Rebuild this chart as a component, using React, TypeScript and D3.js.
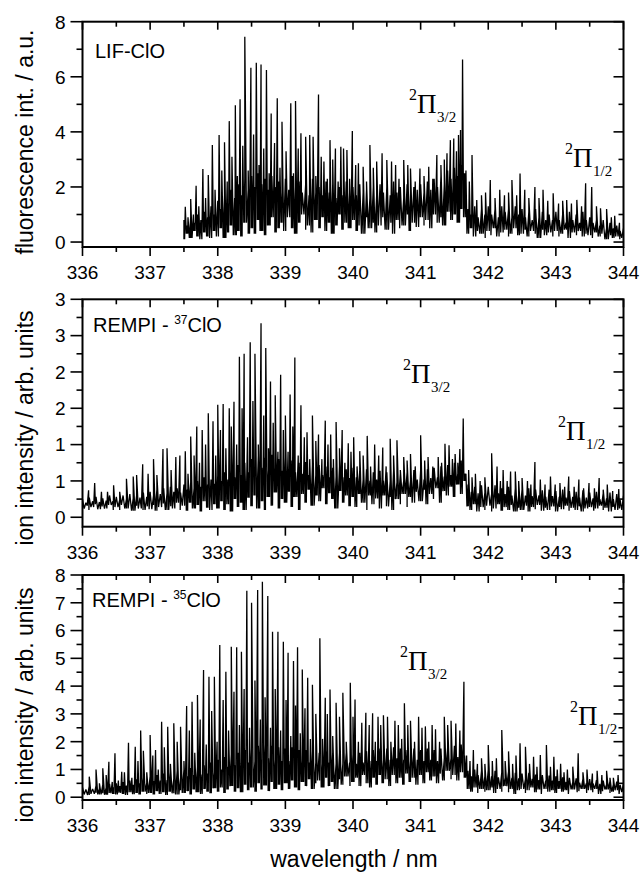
import React from "react";
import * as d3 from "d3";

// ---------- shared x axis ----------
const X_MAJOR = [336, 337, 338, 339, 340, 341, 342, 343, 344];
const X_MINOR = [336.5, 337.5, 338.5, 339.5, 340.5, 341.5, 342.5, 343.5];
const X_LABELS = ["336", "337", "338", "339", "340", "341", "342", "343", "344"];
const GRASS_STEP = 0.05;

// ---------- panel 1 : LIF-ClO ----------
const lifYMajor = [0, 2, 4, 6, 8];
const lifYMinor = [1, 3, 5, 7];
const lifYLabels = ["0", "2", "4", "6", "8"];
const lifGrassStart = 337.5;
// tops of the dense small lines, every 0.05 nm from 337.50
const lifGrass = [
  0.8, 0.6, 0.9, 0.7, 1.0, 0.8, 1.1, 0.9, 1.3, 1.0,
  1.5, 1.2, 1.7, 1.4, 1.9, 1.6, 2.1, 1.7, 2.3, 1.9,
  2.4, 2.0, 2.5, 2.1, 2.3, 1.9, 2.4, 2.0, 2.2, 1.8,
  2.3, 1.9, 2.4, 2.0, 2.2, 1.8, 2.1, 1.7, 2.3, 1.8,
  2.0, 1.7, 2.2, 1.8, 2.1, 1.6, 2.0, 1.7, 2.2, 1.8,
  2.0, 1.7, 2.1, 1.8, 1.9, 1.6, 2.0, 1.7, 2.1, 1.8,
  2.0, 1.7, 2.2, 1.8, 2.0, 1.6, 2.1, 1.8, 2.0, 1.9,
  2.1, 1.8, 2.2, 1.9, 2.3, 2.0, 2.4, 2.1, 2.6, 2.3,
  2.7, 2.4, 2.8, 2.5, 1.2, 1.0, 1.3, 0.9, 1.2, 1.0,
  1.3, 1.0, 1.2, 0.9, 1.3, 1.1, 1.2, 0.9, 1.3, 1.0,
  1.2, 0.9, 1.1, 0.8, 1.2, 0.9, 1.1, 0.8, 1.0, 0.8,
  1.1, 0.8, 1.0, 0.7, 1.1, 0.8, 1.0, 0.7, 1.1, 0.8,
  0.9, 0.7, 0.8, 0.6, 0.8, 0.5, 0.7, 0.5, 0.6, 0.4,
  0.5,
];
// valleys between the small lines, every 0.05 nm from 337.50
const lifValley = [
  0.1, 0.3, 0.15, 0.4, 0.2, 0.1, 0.35, 0.2, 0.15, 0.4,
  0.2, 0.5, 0.15, 0.35, 0.6, 0.25, 0.4, 0.2, 0.7, 0.3,
  0.5, 0.3, 0.8, 0.4, 0.25, 0.6, 0.9, 0.35, 0.5, 0.7,
  0.4, 0.9, 0.5, 0.3, 0.7, 1.0, 0.45, 0.6, 0.35, 0.8,
  0.5, 0.9, 0.4, 0.7, 0.3, 0.6, 1.0, 0.45, 0.7, 0.5,
  0.8, 0.4, 0.6, 0.3, 0.9, 0.5, 0.7, 0.35, 0.6, 0.9,
  0.45, 0.7, 0.3, 0.8, 0.5, 0.6, 1.0, 0.4, 0.7, 0.55,
  0.9, 0.6, 0.8, 0.5, 1.0, 0.7, 0.9, 0.6, 1.1, 0.8,
  1.0, 0.7, 1.2, 0.9, 0.3, 0.5, 0.2, 0.4, 0.3, 0.15,
  0.4, 0.25, 0.5, 0.2, 0.35, 0.45, 0.2, 0.3, 0.5, 0.25,
  0.3, 0.45, 0.2, 0.4, 0.3, 0.15, 0.45, 0.25, 0.35, 0.2,
  0.4, 0.2, 0.3, 0.45, 0.15, 0.35, 0.25, 0.4, 0.2, 0.3,
  0.25, 0.15, 0.35, 0.2, 0.3, 0.1, 0.25, 0.15, 0.2, 0.1,
  0.15,
];
const lifPeaks: [number, number][] = [
  [337.52, 1.28], [337.56, 0.9], [337.6, 1.56], [337.64, 1.0], [337.68, 2.04], [337.72, 1.3],
  [337.78, 2.65], [337.82, 1.6], [337.86, 2.43], [337.92, 3.52], [337.96, 1.9], [338.02, 3.89],
  [338.06, 2.6], [338.1, 3.62], [338.14, 2.2], [338.17, 4.39], [338.21, 3.1], [338.26, 4.97],
  [338.29, 2.4], [338.33, 5.18], [338.37, 3.5], [338.4, 7.45], [338.45, 2.6], [338.49, 6.33],
  [338.53, 3.9], [338.57, 6.51], [338.61, 2.8], [338.64, 6.45], [338.68, 3.4], [338.72, 6.25],
  [338.76, 2.5], [338.79, 4.67], [338.84, 3.6], [338.88, 5.22], [338.92, 2.7], [338.95, 4.37],
  [339.01, 3.3], [339.08, 5.04], [339.12, 2.5], [339.15, 5.12], [339.19, 3.4], [339.23, 3.95],
  [339.3, 3.82], [339.36, 3.89], [339.41, 3.82], [339.45, 2.4], [339.49, 5.36], [339.53, 3.1],
  [339.57, 2.92], [339.62, 2.3], [339.66, 3.7], [339.7, 3.0], [339.74, 3.4], [339.78, 2.2],
  [339.82, 3.46], [339.86, 3.4], [339.91, 3.34], [339.95, 2.3], [339.99, 4.03], [340.04, 2.8],
  [340.08, 2.86], [340.15, 2.73], [340.2, 2.2], [340.25, 3.52], [340.3, 2.7], [340.35, 2.92],
  [340.43, 3.22], [340.5, 2.98], [340.57, 2.92], [340.63, 2.8], [340.68, 2.3], [340.75, 2.98],
  [340.81, 2.8], [340.85, 2.67], [340.92, 2.2], [340.99, 2.67], [341.05, 2.4], [341.12, 2.73],
  [341.18, 2.3], [341.24, 3.16], [341.3, 2.8], [341.35, 3.0], [341.39, 3.22], [341.44, 3.7],
  [341.49, 3.76], [341.53, 3.3], [341.56, 3.89], [341.59, 4.07], [341.62, 6.63], [341.67, 2.6],
  [341.72, 2.2], [341.76, 3.16], [341.83, 1.53], [341.9, 1.7], [341.96, 1.8], [342.03, 2.25],
  [342.1, 1.6], [342.17, 1.9], [342.24, 1.7], [342.3, 1.8], [342.35, 2.25], [342.42, 1.7],
  [342.47, 2.49], [342.54, 1.9], [342.6, 1.6], [342.69, 2.0], [342.75, 1.6], [342.81, 1.9],
  [342.88, 1.5], [342.96, 1.77], [343.04, 1.4], [343.1, 1.5], [343.16, 1.53], [343.23, 1.4],
  [343.31, 1.53], [343.38, 1.3], [343.44, 2.13], [343.53, 2.0], [343.6, 1.3], [343.66, 1.23],
  [343.75, 1.2], [343.82, 0.9], [343.87, 0.95], [343.94, 0.7],
];

// ---------- panel 2 : REMPI 37ClO ----------
const r37YMajor = [0, 0.5, 1, 1.5, 2, 2.5, 3];
const r37YMinor = [0.25, 0.75, 1.25, 1.75, 2.25, 2.75];
const r37YLabels = ["0", "1", "1", "2", "2", "3", "3"];
const r37GrassStart = 336;
const r37Grass = [
  0.25, 0.2, 0.27, 0.22, 0.28, 0.21, 0.26, 0.23, 0.3, 0.22,
  0.28, 0.24, 0.3, 0.25, 0.32, 0.26, 0.3, 0.27, 0.34, 0.28,
  0.35, 0.3, 0.38, 0.32, 0.4, 0.33, 0.42, 0.35, 0.4, 0.34,
  0.45, 0.38, 0.48, 0.4, 0.5, 0.42, 0.55, 0.45, 0.52, 0.46,
  0.58, 0.5, 0.62, 0.52, 0.65, 0.55, 0.72, 0.58, 0.75, 0.62,
  0.8, 0.64, 0.85, 0.68, 0.82, 0.65, 0.86, 0.68, 0.8, 0.64,
  0.82, 0.66, 0.78, 0.62, 0.75, 0.6, 0.76, 0.58, 0.72, 0.58,
  0.72, 0.58, 0.7, 0.55, 0.68, 0.56, 0.7, 0.55, 0.66, 0.54,
  0.68, 0.55, 0.65, 0.52, 0.66, 0.5, 0.62, 0.52, 0.64, 0.5,
  0.62, 0.5, 0.64, 0.48, 0.6, 0.5, 0.62, 0.5, 0.65, 0.52,
  0.64, 0.52, 0.66, 0.54, 0.68, 0.55, 0.7, 0.56, 0.72, 0.58,
  0.75, 0.6, 0.78, 0.6, 0.45, 0.35, 0.42, 0.33, 0.44, 0.34,
  0.42, 0.32, 0.44, 0.33, 0.4, 0.32, 0.42, 0.3, 0.4, 0.31,
  0.38, 0.3, 0.4, 0.29, 0.38, 0.3, 0.37, 0.28, 0.38, 0.29,
  0.36, 0.28, 0.38, 0.27, 0.36, 0.28, 0.35, 0.27, 0.37, 0.27,
  0.34, 0.26, 0.35, 0.25, 0.33, 0.26, 0.34, 0.25, 0.32, 0.24,
  0.3,
];
const r37Valley = [
  0.12, 0.16, 0.1, 0.14, 0.18, 0.11, 0.15, 0.12, 0.17, 0.1,
  0.14, 0.1, 0.17, 0.12, 0.15, 0.09, 0.16, 0.12, 0.1, 0.15,
  0.11, 0.17, 0.09, 0.14, 0.19, 0.1, 0.15, 0.12, 0.2, 0.1,
  0.16, 0.09, 0.2, 0.12, 0.17, 0.08, 0.22, 0.13, 0.1, 0.18,
  0.12, 0.22, 0.1, 0.18, 0.08, 0.25, 0.14, 0.2, 0.1, 0.27,
  0.15, 0.3, 0.12, 0.22, 0.1, 0.28, 0.16, 0.34, 0.12, 0.25,
  0.2, 0.35, 0.14, 0.28, 0.1, 0.32, 0.2, 0.38, 0.16, 0.3,
  0.22, 0.4, 0.18, 0.33, 0.25, 0.12, 0.36, 0.2, 0.3, 0.15,
  0.28, 0.14, 0.32, 0.2, 0.1, 0.3, 0.18, 0.26, 0.12, 0.3,
  0.15, 0.28, 0.1, 0.25, 0.18, 0.32, 0.14, 0.28, 0.2, 0.35,
  0.22, 0.38, 0.18, 0.32, 0.25, 0.4, 0.2, 0.36, 0.3, 0.42,
  0.28, 0.45, 0.32, 0.5, 0.15, 0.1, 0.18, 0.08, 0.14, 0.1,
  0.16, 0.08, 0.12, 0.18, 0.09, 0.14, 0.1, 0.17, 0.08, 0.13,
  0.1, 0.16, 0.08, 0.14, 0.11, 0.17, 0.09, 0.13, 0.1, 0.15,
  0.08, 0.14, 0.11, 0.16, 0.09, 0.13, 0.1, 0.15, 0.08, 0.12,
  0.14, 0.09, 0.12, 0.16, 0.1, 0.13, 0.08, 0.14, 0.1, 0.12,
  0.1,
];
const r37Peaks: [number, number][] = [
  [336.09, 0.37], [336.18, 0.47], [336.28, 0.35], [336.37, 0.35], [336.46, 0.44], [336.55, 0.35],
  [336.65, 0.53], [336.75, 0.56], [336.8, 0.58], [336.89, 0.73], [336.97, 0.6], [337.05, 0.8],
  [337.1, 0.58], [337.19, 0.94], [337.25, 0.95], [337.31, 0.65], [337.38, 0.83], [337.44, 0.85],
  [337.52, 0.91], [337.56, 0.6], [337.6, 1.11], [337.65, 0.85], [337.69, 1.25], [337.73, 0.75],
  [337.77, 1.2], [337.82, 1.0], [337.86, 1.43], [337.93, 1.32], [337.97, 0.85], [338.0, 1.55],
  [338.04, 1.2], [338.08, 1.56], [338.12, 0.95], [338.17, 1.5], [338.2, 1.25], [338.24, 1.59],
  [338.28, 1.0], [338.32, 2.21], [338.36, 1.5], [338.39, 2.25], [338.44, 1.1], [338.48, 2.41],
  [338.52, 1.6], [338.55, 2.25], [338.6, 1.0], [338.64, 2.67], [338.68, 1.4], [338.71, 2.33],
  [338.75, 0.95], [338.78, 1.87], [338.82, 1.3], [338.85, 1.68], [338.89, 0.9], [338.93, 1.96],
  [338.97, 1.2], [339.0, 1.4], [339.04, 0.9], [339.07, 1.69], [339.11, 1.25], [339.14, 2.2],
  [339.19, 0.85], [339.23, 1.54], [339.28, 1.1], [339.32, 1.17], [339.36, 0.8], [339.4, 1.4],
  [339.45, 1.05], [339.49, 1.14], [339.54, 0.8], [339.59, 1.33], [339.63, 1.0], [339.67, 1.14],
  [339.71, 0.8], [339.75, 1.31], [339.8, 0.95], [339.84, 1.2], [339.88, 0.75], [339.93, 1.02],
  [339.97, 0.9], [340.01, 1.1], [340.06, 0.7], [340.1, 0.91], [340.15, 0.85], [340.21, 1.12],
  [340.26, 0.7], [340.32, 1.0], [340.38, 0.85], [340.44, 0.96], [340.49, 0.7], [340.55, 1.08],
  [340.6, 0.85], [340.65, 1.06], [340.7, 0.65], [340.75, 0.83], [340.8, 0.78], [340.85, 0.87],
  [340.92, 0.7], [341.0, 1.13], [341.06, 0.78], [341.11, 0.83], [341.18, 0.7], [341.26, 0.83],
  [341.31, 0.75], [341.36, 1.01], [341.42, 0.99], [341.47, 0.8], [341.51, 0.87], [341.55, 0.75],
  [341.58, 0.94], [341.63, 1.36], [341.67, 0.6], [341.71, 0.65], [341.76, 0.55], [341.81, 0.6],
  [341.88, 0.5], [341.95, 0.55], [342.05, 0.88], [342.13, 0.7], [342.18, 0.5], [342.22, 0.65],
  [342.28, 0.5], [342.33, 0.63], [342.4, 0.63], [342.45, 0.5], [342.5, 0.54], [342.58, 0.5],
  [342.63, 0.45], [342.69, 0.76], [342.77, 0.52], [342.84, 0.45], [342.92, 0.56], [342.99, 0.45],
  [343.06, 0.47], [343.13, 0.42], [343.19, 0.56], [343.27, 0.42], [343.34, 0.52], [343.41, 0.4],
  [343.49, 0.47], [343.57, 0.4], [343.64, 0.54], [343.7, 0.38], [343.76, 0.45], [343.84, 0.36],
  [343.93, 0.39],
];

// ---------- panel 3 : REMPI 35ClO ----------
const r35YMajor = [0, 1, 2, 3, 4, 5, 6, 7, 8];
const r35YMinor = [0.5, 1.5, 2.5, 3.5, 4.5, 5.5, 6.5, 7.5];
const r35YLabels = ["0", "1", "2", "3", "4", "5", "6", "7", "8"];
const r35GrassStart = 336;
const r35Grass = [
  0.35, 0.28, 0.4, 0.3, 0.42, 0.32, 0.45, 0.34, 0.48, 0.36,
  0.5, 0.4, 0.55, 0.42, 0.6, 0.45, 0.65, 0.5, 0.7, 0.52,
  0.75, 0.58, 0.8, 0.6, 0.85, 0.62, 0.9, 0.66, 0.95, 0.7,
  1.0, 0.75, 1.05, 0.8, 1.1, 0.82, 1.15, 0.85, 1.25, 0.9,
  1.35, 1.0, 1.45, 1.1, 1.55, 1.15, 1.6, 1.2, 1.7, 1.25,
  1.75, 1.3, 1.85, 1.35, 1.9, 1.4, 1.85, 1.35, 1.8, 1.3,
  1.75, 1.3, 1.8, 1.3, 1.7, 1.3, 1.7, 1.25, 1.65, 1.25,
  1.6, 1.2, 1.65, 1.25, 1.6, 1.2, 1.6, 1.2, 1.6, 1.25,
  1.55, 1.2, 1.6, 1.25, 1.65, 1.3, 1.7, 1.3, 1.75, 1.35,
  1.75, 1.35, 1.8, 1.4, 1.75, 1.35, 1.7, 1.3, 1.75, 1.35,
  1.7, 1.3, 1.75, 1.35, 1.7, 1.3, 1.75, 1.4, 1.8, 1.4,
  1.85, 1.45, 1.9, 1.5, 0.95, 0.75, 1.0, 0.8, 0.95, 0.75,
  1.0, 0.75, 0.95, 0.72, 0.9, 0.7, 0.92, 0.7, 0.88, 0.68,
  0.85, 0.65, 0.88, 0.66, 0.82, 0.62, 0.8, 0.6, 0.78, 0.6,
  0.75, 0.58, 0.72, 0.55, 0.7, 0.54, 0.68, 0.52, 0.66, 0.5,
  0.65, 0.5, 0.62, 0.48, 0.6, 0.46, 0.58, 0.45, 0.56, 0.44,
  0.5,
];
const r35Valley = [
  0.1, 0.15, 0.08, 0.12, 0.16, 0.1, 0.14, 0.09, 0.15, 0.12,
  0.1, 0.16, 0.12, 0.08, 0.18, 0.11, 0.15, 0.1, 0.2, 0.12,
  0.15, 0.1, 0.22, 0.12, 0.18, 0.08, 0.2, 0.14, 0.1, 0.25,
  0.15, 0.22, 0.1, 0.28, 0.18, 0.12, 0.3, 0.2, 0.14, 0.32,
  0.2, 0.35, 0.15, 0.28, 0.4, 0.2, 0.32, 0.18, 0.45, 0.25,
  0.35, 0.2, 0.5, 0.28, 0.42, 0.22, 0.55, 0.3, 0.45, 0.25,
  0.5, 0.3, 0.6, 0.35, 0.25, 0.55, 0.4, 0.65, 0.3, 0.5,
  0.6, 0.35, 0.7, 0.4, 0.55, 0.3, 0.65, 0.45, 0.75, 0.4,
  0.55, 0.7, 0.4, 0.8, 0.5, 0.35, 0.7, 0.45, 0.8, 0.5,
  0.65, 0.4, 0.8, 0.5, 0.7, 0.45, 0.85, 0.55, 0.7, 0.45,
  0.8, 0.5, 0.9, 0.6, 0.75, 0.5, 0.85, 0.6, 0.95, 0.65,
  0.8, 0.6, 0.9, 0.7, 0.3, 0.2, 0.35, 0.15, 0.3, 0.2,
  0.25, 0.35, 0.15, 0.3, 0.2, 0.4, 0.18, 0.3, 0.12, 0.25,
  0.3, 0.15, 0.25, 0.35, 0.18, 0.28, 0.12, 0.3, 0.2, 0.25,
  0.15, 0.3, 0.2, 0.25, 0.12, 0.28, 0.18, 0.22, 0.3, 0.15,
  0.25, 0.18, 0.3, 0.12, 0.22, 0.28, 0.15, 0.2, 0.25, 0.12,
  0.18,
];
const r35Peaks: [number, number][] = [
  [336.1, 0.74], [336.2, 1.0], [336.25, 0.5], [336.3, 1.04], [336.35, 0.8], [336.39, 1.28],
  [336.44, 0.55], [336.48, 1.58], [336.53, 0.6], [336.58, 0.92], [336.62, 0.9], [336.68, 1.96],
  [336.73, 0.7], [336.78, 1.82], [336.82, 1.3], [336.86, 2.4], [336.9, 1.67], [336.95, 0.9],
  [337.0, 2.24], [337.04, 1.5], [337.08, 1.7], [337.12, 1.0], [337.17, 2.72], [337.21, 1.8],
  [337.26, 2.54], [337.3, 1.2], [337.35, 2.66], [337.4, 2.0], [337.45, 2.54], [337.5, 1.3],
  [337.54, 3.28], [337.58, 2.4], [337.62, 3.44], [337.66, 1.6], [337.7, 3.68], [337.74, 2.8],
  [337.79, 4.58], [337.83, 1.9], [337.87, 4.34], [337.91, 3.1], [337.95, 4.34], [337.99, 2.0],
  [338.03, 5.48], [338.08, 3.5], [338.12, 4.52], [338.16, 2.4], [338.2, 5.42], [338.24, 3.8],
  [338.28, 5.4], [338.32, 2.6], [338.35, 5.24], [338.39, 3.9], [338.43, 7.43], [338.47, 2.5],
  [338.5, 7.0], [338.55, 4.2], [338.59, 7.46], [338.63, 2.8], [338.66, 7.76], [338.7, 3.6],
  [338.74, 7.24], [338.78, 2.5], [338.81, 5.96], [338.85, 3.9], [338.89, 5.96], [338.93, 2.4],
  [338.97, 5.6], [339.01, 3.5], [339.04, 5.2], [339.08, 2.2], [339.12, 4.9], [339.15, 3.3],
  [339.18, 5.4], [339.22, 2.3], [339.25, 4.6], [339.29, 3.2], [339.33, 4.3], [339.37, 2.1],
  [339.4, 4.05], [339.45, 3.0], [339.51, 5.72], [339.55, 2.1], [339.59, 3.58], [339.62, 3.0],
  [339.66, 3.88], [339.7, 2.2], [339.75, 3.4], [339.8, 2.9], [339.85, 3.76], [339.9, 2.0],
  [339.96, 4.12], [340.0, 2.9], [340.03, 3.52], [340.08, 2.0], [340.13, 2.68], [340.19, 3.04],
  [340.24, 2.6], [340.29, 3.02], [340.33, 2.0], [340.37, 2.9], [340.41, 2.6], [340.45, 2.95],
  [340.51, 2.9], [340.56, 2.0], [340.62, 2.75], [340.67, 2.6], [340.72, 2.1], [340.76, 3.38],
  [340.81, 2.6], [340.85, 2.75], [340.91, 2.0], [340.97, 2.9], [341.02, 2.5], [341.07, 2.55],
  [341.12, 2.0], [341.17, 2.6], [341.22, 2.45], [341.28, 2.0], [341.35, 2.9], [341.4, 2.6],
  [341.45, 2.75], [341.52, 2.65], [341.58, 2.4], [341.64, 4.16], [341.68, 1.5], [341.73, 1.3],
  [341.78, 1.7], [341.84, 1.2], [341.9, 1.4], [341.95, 1.2], [342.0, 1.88], [342.06, 1.3],
  [342.12, 1.4], [342.2, 2.42], [342.25, 1.3], [342.3, 1.65], [342.36, 1.2], [342.41, 1.5],
  [342.47, 1.94], [342.55, 1.82], [342.61, 1.2], [342.67, 1.46], [342.72, 1.1], [342.77, 1.52],
  [342.86, 1.88], [342.92, 1.1], [342.97, 1.46], [343.02, 1.0], [343.07, 1.2], [343.12, 0.9],
  [343.17, 1.0], [343.25, 1.1], [343.33, 1.58], [343.4, 0.9], [343.46, 1.0], [343.54, 0.85],
  [343.61, 0.95], [343.68, 0.8], [343.75, 0.95], [343.8, 0.7], [343.85, 0.7], [343.92, 0.8],
  [344.0, 1.0],
];

// ---------- layout ----------
const LEFT = 82.5;
const RIGHT = 623.5;
const SANS = "'Liberation Sans', Arial, Helvetica, sans-serif";
const SERIF = "'Liberation Serif', 'Times New Roman', serif";

const xScale = d3.scaleLinear().domain([336, 344]).range([LEFT, RIGHT]);

type PanelProps = {
  id: string;
  top: number;
  bottom: number;
  yDomain: [number, number];
  yMajor: number[];
  yMinor: number[];
  yLabels: string[];
  grassStart: number;
  grass: number[];
  valley: number[];
  peaks: [number, number][];
  title: string;
  titleCenter: number;
  label: React.ReactNode;
  pi32: [number, number];
  pi12: [number, number];
};

function PiLabel({ x, y, sub }: { x: number; y: number; sub: string }) {
  return (
    <g fontFamily={SERIF} fill="#000">
      <text x={x} y={y - 13.5} fontSize={16}>2</text>
      <text x={x + 8} y={y} fontSize={27}>Π</text>
      <text x={x + 28} y={y + 8.5} fontSize={15}>{sub}</text>
    </g>
  );
}

function Panel(p: PanelProps) {
  const y = d3.scaleLinear().domain(p.yDomain).range([p.bottom, p.top]);
  const n = p.valley.length;
  const valleyAt = (wl: number) => {
    const i = Math.max(0, Math.min(n - 1, Math.round((wl - p.grassStart) / GRASS_STEP)));
    return p.valley[i];
  };
  const pts: [number, number][] = p.grass
    .map((v, i) => [p.grassStart + i * GRASS_STEP, v] as [number, number])
    .concat(p.peaks)
    .sort((a, b) => a[0] - b[0]);
  const verts: [number, number][] = [[pts[0][0], valleyAt(pts[0][0])]];
  pts.forEach((pt, i) => {
    verts.push(pt);
    const nx = i < pts.length - 1 ? pts[i + 1][0] : pt[0] + 0.01;
    const mid = (pt[0] + nx) / 2;
    verts.push([mid, valleyAt(mid)]);
  });
  const line = d3
    .line<[number, number]>()
    .x((d) => xScale(d[0]))
    .y((d) => y(d[1]));
  const clipId = `clip-${p.id}`;
  return (
    <g>
      <defs>
        <clipPath id={clipId}>
          <rect x={LEFT} y={p.top} width={RIGHT - LEFT} height={p.bottom - p.top} />
        </clipPath>
      </defs>
      <path
        d={line(verts) || ""}
        fill="none"
        stroke="#000"
        strokeWidth={1.3}
        strokeLinejoin="miter"
        strokeMiterlimit={2}
        clipPath={`url(#${clipId})`}
      />
      <rect x={LEFT} y={p.top} width={RIGHT - LEFT} height={p.bottom - p.top} fill="none" stroke="#000" strokeWidth={2} />
      {X_MAJOR.map((v) => (
        <g key={`xM${v}`} stroke="#000" strokeWidth={1.6}>
          <line x1={xScale(v)} x2={xScale(v)} y1={p.bottom} y2={p.bottom + 9} />
          <line x1={xScale(v)} x2={xScale(v)} y1={p.top} y2={p.top + 8} />
        </g>
      ))}
      {X_MINOR.map((v) => (
        <g key={`xm${v}`} stroke="#000" strokeWidth={1.6}>
          <line x1={xScale(v)} x2={xScale(v)} y1={p.bottom} y2={p.bottom + 5} />
          <line x1={xScale(v)} x2={xScale(v)} y1={p.top} y2={p.top + 5} />
        </g>
      ))}
      {X_MAJOR.map((v, i) => (
        <text key={`xl${v}`} x={xScale(v)} y={p.bottom + 32} fontFamily={SANS} fontSize={19} textAnchor="middle">
          {X_LABELS[i]}
        </text>
      ))}
      {p.yMajor.map((v) => (
        <g key={`yM${v}`} stroke="#000" strokeWidth={1.6}>
          <line x1={LEFT - 12} x2={LEFT} y1={y(v)} y2={y(v)} />
          <line x1={RIGHT - 10} x2={RIGHT} y1={y(v)} y2={y(v)} />
        </g>
      ))}
      {p.yMinor.map((v) => (
        <g key={`ym${v}`} stroke="#000" strokeWidth={1.6}>
          <line x1={LEFT - 6} x2={LEFT} y1={y(v)} y2={y(v)} />
          <line x1={RIGHT - 5} x2={RIGHT} y1={y(v)} y2={y(v)} />
        </g>
      ))}
      {p.yMajor.map((v, i) => (
        <text key={`yl${v}`} x={LEFT - 17} y={y(v)} dy="0.36em" fontFamily={SANS} fontSize={19} textAnchor="end">
          {p.yLabels[i]}
        </text>
      ))}
      <text
        transform={`translate(33, ${p.titleCenter}) rotate(-90)`}
        fontFamily={SANS}
        fontSize={23}
        textAnchor="middle"
      >
        {p.title}
      </text>
      {p.label}
      <PiLabel x={p.pi32[0]} y={p.pi32[1]} sub="3/2" />
      <PiLabel x={p.pi12[0]} y={p.pi12[1]} sub="1/2" />
    </g>
  );
}

export default function App() {
  return (
    <svg
      width={643}
      height={877}
      viewBox="0 0 643 877"
      style={{ position: "absolute", left: 0, top: 0, background: "#fff" }}
    >
      <rect width={643} height={877} fill="#fff" />
      <Panel
        id="lif"
        top={21.7}
        bottom={247}
        yDomain={[-0.18, 8]}
        yMajor={lifYMajor}
        yMinor={lifYMinor}
        yLabels={lifYLabels}
        grassStart={lifGrassStart}
        grass={lifGrass}
        valley={lifValley}
        peaks={lifPeaks}
        title="fluorescence int. / a.u."
        titleCenter={142}
        label={<text x={95} y={58} fontFamily={SANS} fontSize={20}>LIF-ClO</text>}
        pi32={[409, 113]}
        pi12={[565, 167]}
      />
      <Panel
        id="r37"
        top={299.3}
        bottom={526.7}
        yDomain={[-0.13, 3]}
        yMajor={r37YMajor}
        yMinor={r37YMinor}
        yLabels={r37YLabels}
        grassStart={r37GrassStart}
        grass={r37Grass}
        valley={r37Valley}
        peaks={r37Peaks}
        title="ion intensity / arb. units"
        titleCenter={428}
        label={
          <text x={93} y={332} fontFamily={SANS} fontSize={20}>
            REMPI - <tspan fontSize={12} dy={-8}>37</tspan>
            <tspan dy={8}>ClO</tspan>
          </text>
        }
        pi32={[403, 383]}
        pi12={[558, 440]}
      />
      <Panel
        id="r35"
        top={575}
        bottom={800}
        yDomain={[-0.1, 8]}
        yMajor={r35YMajor}
        yMinor={r35YMinor}
        yLabels={r35YLabels}
        grassStart={r35GrassStart}
        grass={r35Grass}
        valley={r35Valley}
        peaks={r35Peaks}
        title="ion intensity / arb. units"
        titleCenter={705}
        label={
          <text x={92} y={607} fontFamily={SANS} fontSize={20}>
            REMPI - <tspan fontSize={12} dy={-8}>35</tspan>
            <tspan dy={8}>ClO</tspan>
          </text>
        }
        pi32={[400, 670]}
        pi12={[570, 725]}
      />
      <text x={354} y={867} fontFamily={SANS} fontSize={23} textAnchor="middle">
        wavelength / nm
      </text>
    </svg>
  );
}
